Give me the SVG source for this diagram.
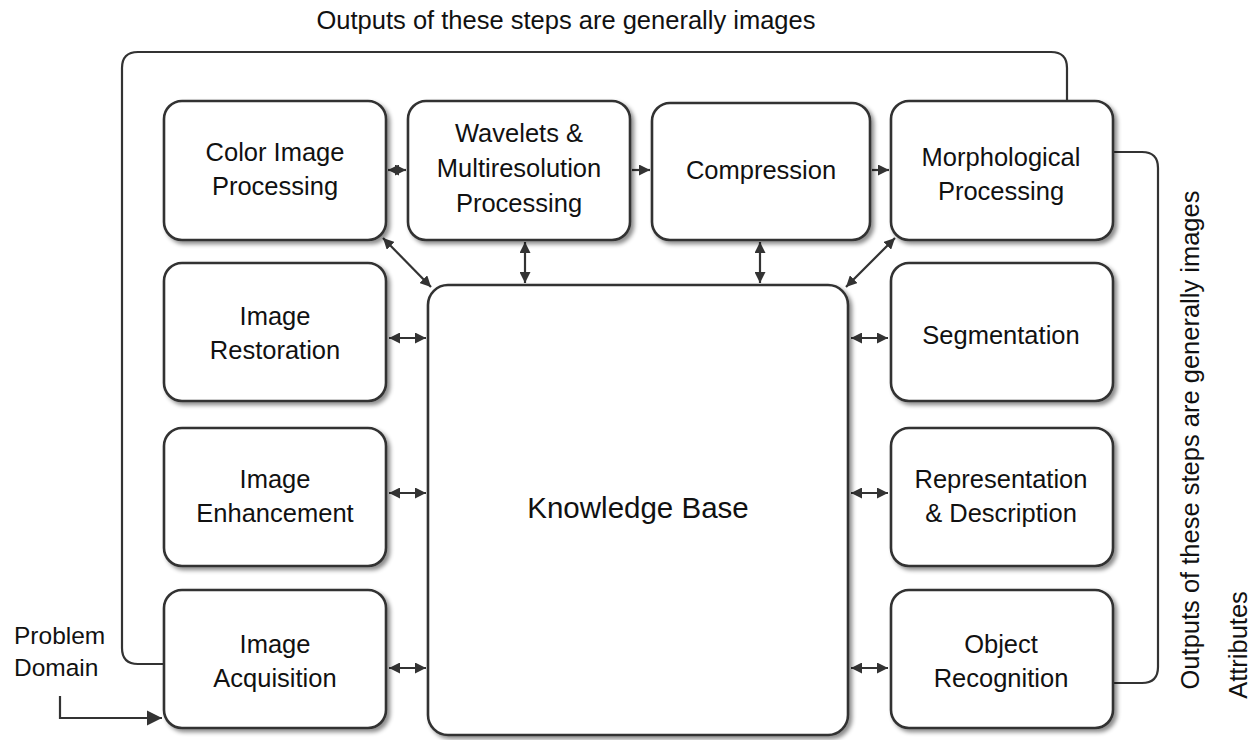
<svg xmlns="http://www.w3.org/2000/svg" width="1257" height="740" viewBox="0 0 1257 740">
<defs>
<style>
.box{fill:#fff;stroke:#333;stroke-width:2.6;filter:url(#sh)}
.t{font-family:"Liberation Sans",Arial,sans-serif;font-size:25.5px;fill:#111;text-anchor:middle}
.lbl{font-family:"Liberation Sans",Arial,sans-serif;font-size:25.5px;fill:#111}
.c{fill:none;stroke:#333;stroke-width:2.2}
.a{fill:none;stroke:#333;stroke-width:2.2;marker-end:url(#ah);marker-start:url(#ahs)}
.a1{fill:none;stroke:#333;stroke-width:2.2;marker-end:url(#ah)}
</style>
<filter id="sh" x="-10%" y="-10%" width="125%" height="125%">
<feDropShadow dx="3" dy="3" stdDeviation="2" flood-color="#000" flood-opacity="0.45"/>
</filter>
<marker id="ah" viewBox="0 0 10 10" refX="10" refY="5" markerWidth="5" markerHeight="5" orient="auto" markerUnits="strokeWidth">
<path d="M0,0 L10,5 L0,10 z" fill="#333"/>
</marker>
<marker id="ahs" viewBox="0 0 10 10" refX="0" refY="5" markerWidth="5" markerHeight="5" orient="auto" markerUnits="strokeWidth">
<path d="M10,0 L0,5 L10,10 z" fill="#333"/>
</marker>
<marker id="big" viewBox="0 0 10 10" refX="10" refY="5" markerWidth="7" markerHeight="7" orient="auto" markerUnits="strokeWidth">
<path d="M0,0 L10,5 L0,10 z" fill="#333"/>
</marker>
</defs>

<g id="connectors">
<path class="c" d="M164,664 H138 Q122,664 122,648 V68 Q122,52 138,52 H1051 Q1067,52 1067,68 V101"/>
<path class="c" d="M1113,152 H1142 Q1158,152 1158,168 V667 Q1158,683 1142,683 H1113"/>
<path d="M60,696 V718 H162" fill="none" stroke="#333" stroke-width="2.2" marker-end="url(#big)"/>
<line class="a" x1="388" y1="170" x2="406" y2="170"/>
<line class="a1" x1="632" y1="170" x2="650" y2="170"/>
<line class="a1" x1="872" y1="170" x2="889" y2="170"/>
<line class="a" x1="383" y1="238" x2="431" y2="287"/>
<line class="a" x1="525" y1="242" x2="525" y2="283"/>
<line class="a" x1="760" y1="242" x2="760" y2="283"/>
<line class="a" x1="895" y1="238" x2="846" y2="287"/>
<line class="a" x1="389" y1="338" x2="426" y2="338"/>
<line class="a" x1="389" y1="493" x2="426" y2="493"/>
<line class="a" x1="389" y1="668" x2="426" y2="668"/>
<line class="a" x1="851" y1="338" x2="888" y2="338"/>
<line class="a" x1="851" y1="493" x2="888" y2="493"/>
<line class="a" x1="851" y1="668" x2="888" y2="668"/>
</g>

<g id="kb"><rect class="box" x="428" y="285" width="420" height="450" rx="20"/><text class="t" x="638" y="518" style="font-size:29.5px">Knowledge Base</text></g>

<g id="color"><rect class="box" x="164" y="101" width="222" height="139" rx="18"/><text class="t" x="275" y="161">Color Image</text><text class="t" x="275" y="195">Processing</text></g>
<g id="wavelets"><rect class="box" x="408" y="101" width="222" height="139" rx="18"/><text class="t" x="519" y="142">Wavelets &amp;</text><text class="t" x="519" y="177">Multiresolution</text><text class="t" x="519" y="212">Processing</text></g>
<g id="compression"><rect class="box" x="652" y="103" width="218" height="137" rx="18"/><text class="t" x="761" y="179">Compression</text></g>
<g id="morph"><rect class="box" x="891" y="101" width="222" height="139" rx="18"/><text class="t" x="1001" y="166">Morphological</text><text class="t" x="1001" y="200">Processing</text></g>

<g id="restoration"><rect class="box" x="164" y="263" width="222" height="138" rx="18"/><text class="t" x="275" y="325">Image</text><text class="t" x="275" y="359">Restoration</text></g>
<g id="enhancement"><rect class="box" x="164" y="428" width="222" height="138" rx="18"/><text class="t" x="275" y="488">Image</text><text class="t" x="275" y="522">Enhancement</text></g>
<g id="acquisition"><rect class="box" x="164" y="590" width="222" height="138" rx="18"/><text class="t" x="275" y="653">Image</text><text class="t" x="275" y="687">Acquisition</text></g>

<g id="segmentation"><rect class="box" x="891" y="263" width="222" height="138" rx="18"/><text class="t" x="1001" y="344">Segmentation</text></g>
<g id="representation"><rect class="box" x="891" y="428" width="222" height="138" rx="18"/><text class="t" x="1001" y="488">Representation</text><text class="t" x="1001" y="522">&amp; Description</text></g>
<g id="recognition"><rect class="box" x="891" y="590" width="222" height="138" rx="18"/><text class="t" x="1001" y="653">Object</text><text class="t" x="1001" y="687">Recognition</text></g>

<g id="labels">
<text class="lbl" x="566" y="29" text-anchor="middle">Outputs of these steps are generally images</text>
<text class="lbl" x="14" y="644" style="font-size:24.5px">Problem</text>
<text class="lbl" x="14" y="676" style="font-size:24.5px">Domain</text>
<text class="lbl" transform="translate(1199,440) rotate(-90)" text-anchor="middle">Outputs of these steps are generally images</text>
<text class="lbl" transform="translate(1247,645) rotate(-90)" text-anchor="middle">Attributes</text>
</g>
</svg>
